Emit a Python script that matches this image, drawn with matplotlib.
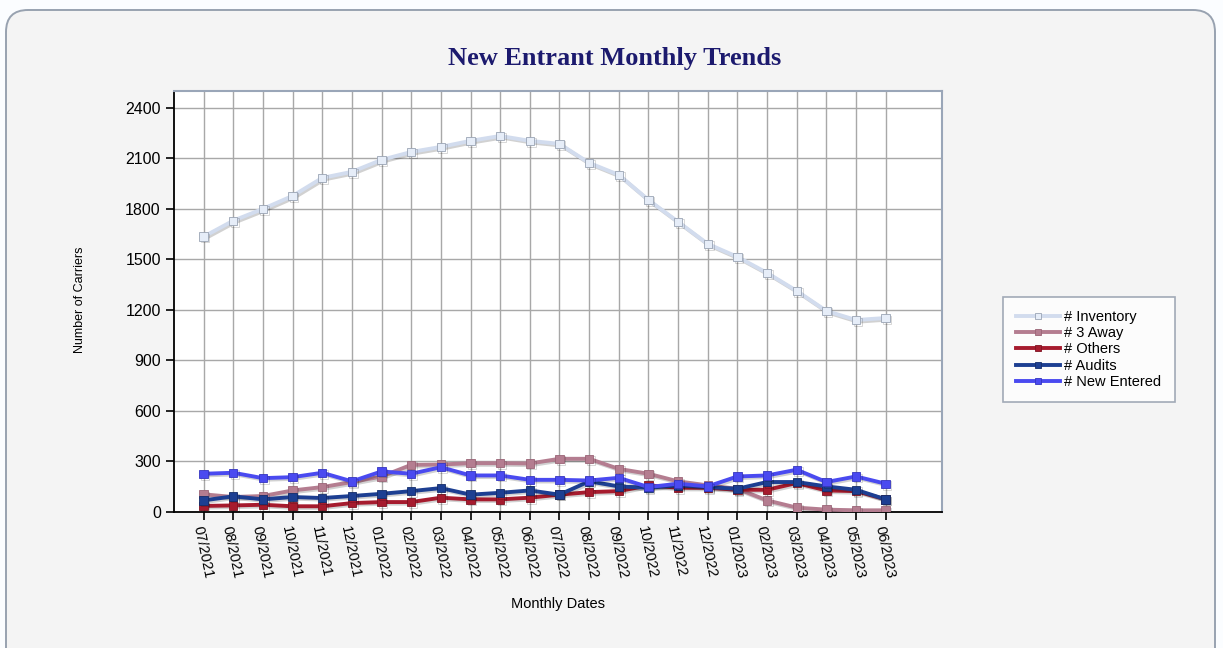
import matplotlib
matplotlib.use("Agg")
import matplotlib.pyplot as plt
from matplotlib.patches import FancyBboxPatch
import matplotlib.patheffects as pe

months = ["07/2021", "08/2021", "09/2021", "10/2021", "11/2021", "12/2021",
          "01/2022", "02/2022", "03/2022", "04/2022", "05/2022", "06/2022",
          "07/2022", "08/2022", "09/2022", "10/2022", "11/2022", "12/2022",
          "01/2023", "02/2023", "03/2023", "04/2023", "05/2023", "06/2023"]

inventory = [1635, 1730, 1800, 1877, 1984, 2020, 2091, 2138, 2168, 2204, 2233, 2204,
             2186, 2073, 2002, 1853, 1723, 1592, 1515, 1420, 1313, 1194, 1140, 1152]
three_away = [105, 89, 95, 128, 148, 178, 211, 280, 282, 290, 290, 288,
              316, 316, 256, 227, 182, 158, 138, 69, 26, 14, 10, 10]
others = [36, 39, 43, 34, 34, 53, 59, 59, 85, 75, 75, 85,
          103, 118, 124, 158, 144, 144, 132, 132, 172, 128, 124, 75]
audits = [69, 93, 75, 89, 83, 95, 108, 124, 142, 103, 114, 128,
          103, 182, 152, 144, 158, 148, 138, 178, 178, 152, 132, 75]
new_entered = [227, 233, 201, 207, 233, 182, 241, 227, 266, 217, 217, 191,
               191, 187, 203, 148, 168, 152, 211, 217, 251, 178, 211, 168]

series = [
    ("# Inventory", inventory, "#d2dcee", "#e6edf8", "#9aa4b4"),
    ("# 3 Away", three_away, "#b47d90", "#b47d90", "#9a6476"),
    ("# Others", others, "#a61b2e", "#a61b2e", "#7e1322"),
    ("# Audits", audits, "#1d3f92", "#1d3f92", "#142d6a"),
    ("# New Entered", new_entered, "#4a4af0", "#4a4af0", "#3535c0"),
]

W, H = 1223, 648
fig = plt.figure(figsize=(W / 100, H / 100), dpi=100)
fig.patch.set_facecolor("#fbfdff")

# rounded panel behind everything
bg = fig.add_axes([0, 0, 1, 1], zorder=-1)
bg.set_xlim(0, W)
bg.set_ylim(0, H)
bg.axis("off")
bg.add_patch(FancyBboxPatch((6, -30), W - 14, H - 10 + 30,
                            boxstyle="round,pad=0,rounding_size=22",
                            facecolor="#f4f4f4", edgecolor="#98a2b0", linewidth=1.4))

ax = fig.add_axes([174 / W, 1 - 512 / H, (942 - 174) / W, (512 - 91) / H])
ax.set_facecolor("white")

x = list(range(len(months)))
shadow = [pe.SimpleLineShadow(offset=(1.2, -1.2), shadow_color="#000000", alpha=0.18), pe.Normal()]
for name, vals, lc, mfc, mec in series:
    ax.plot(x, vals, color=lc, linewidth=2.8, marker="s", markersize=6,
            markerfacecolor=mfc, markeredgecolor=mec, markeredgewidth=0.6,
            label=name, path_effects=shadow, zorder=3)

ax.set_xlim(-1, 24.9)
ax.set_ylim(0, 2500)
ax.set_yticks(range(0, 2401, 300))
ax.set_xticks(x)
ax.set_xticklabels(months, rotation=-78, ha="left", va="top",
                   rotation_mode="anchor", fontsize=10.5, family="Liberation Sans")
for lbl in ax.get_yticklabels():
    lbl.set_family("Liberation Sans")
    lbl.set_fontsize(11.5)
ax.tick_params(axis="both", direction="out", length=6, width=1.2, color="black")
ax.tick_params(axis="x", pad=3)
ax.grid(True, color="#a8a8a8", linewidth=1.0, zorder=0)
ax.set_axisbelow(True)
ax.spines["left"].set_color("black")
ax.spines["bottom"].set_color("black")
ax.spines["left"].set_linewidth(1.3)
ax.spines["bottom"].set_linewidth(1.3)
ax.spines["top"].set_color("#9aa6b8")
ax.spines["right"].set_color("#9aa6b8")
ax.spines["top"].set_linewidth(1.5)
ax.spines["right"].set_linewidth(1.5)

fig.text(615 / W, 1 - 58 / H, "New Entrant Monthly Trends", ha="center", va="center",
         fontsize=19, fontweight="bold", family="Liberation Serif", color="#1c1a6e")
fig.text(80 / W, 1 - 300 / H, "Number of Carriers", rotation=90, ha="center", va="center",
         fontsize=9, family="Liberation Sans")
fig.text(558 / W, 1 - 604 / H, "Monthly Dates", ha="center", va="center",
         fontsize=10.5, family="Liberation Sans")

leg = fig.legend(loc="upper left", bbox_to_anchor=(1003 / W, 1 - 297 / H),
                 prop={"family": "Liberation Sans", "size": 10.5}, frameon=True,
                 fancybox=False, handlelength=3.0, handletextpad=0.3,
                 labelspacing=0.15, borderpad=0.9, borderaxespad=0)
leg.get_frame().set_edgecolor("#8c96a6")
leg.get_frame().set_linewidth(1.2)
for h in leg.legend_handles:
    h.set_markersize(4)
    h.set_path_effects([])

fig.savefig("out.png", dpi=100, facecolor=fig.get_facecolor())
